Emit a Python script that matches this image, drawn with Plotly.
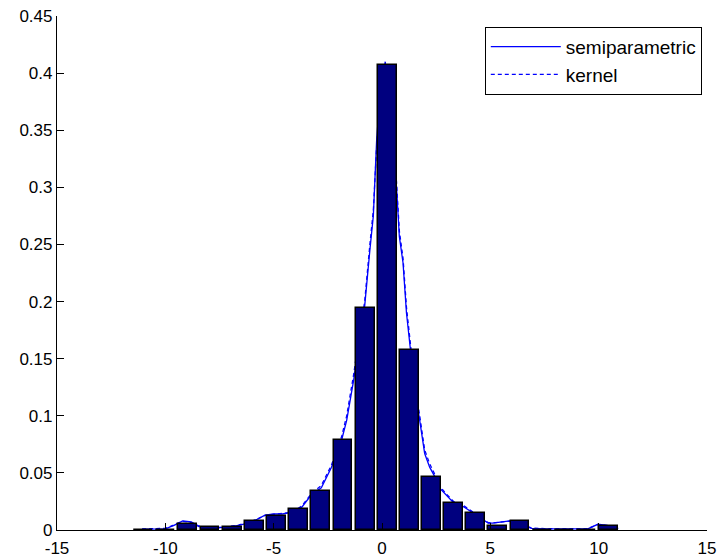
import plotly.graph_objects as go

# Histogram bins (centres) and heights
bin_centers = [-11.00, -9.98, -8.96, -7.94, -6.91, -5.89, -4.87, -3.85, -2.83, -1.80, -0.78,
               0.24, 1.26, 2.28, 3.31, 4.33, 5.35, 6.37, 7.39, 8.42, 9.44, 10.46]
bin_heights = [0.0, 0.0, 0.0055, 0.0026, 0.0026, 0.0079, 0.012, 0.018, 0.034, 0.079, 0.194,
               0.407, 0.158, 0.046, 0.024, 0.0146, 0.0038, 0.0079, 0.0, 0.0, 0.0, 0.0038]

# Semiparametric density estimate
semi_x = [-11.07, -10.5, -10.0, -9.6, -9.2, -8.8, -8.45, -8.0, -7.5, -7.0, -6.6, -6.2, -5.8,
          -5.4, -5.0, -4.6, -4.3, -4.0, -3.7, -3.25, -2.8, -2.33, -1.86, -1.63, -1.4, -1.31,
          -1.05, -0.8, -0.56, -0.4, -0.25, -0.1, 0.15, 0.4, 0.67, 0.8, 0.97, 1.13, 1.28, 1.5,
          1.74, 1.97, 2.2, 2.43, 2.6, 2.9, 3.3, 3.8, 4.1, 4.5, 4.9, 5.1, 5.5, 5.9, 6.3, 6.9,
          7.5, 8.5, 9.5, 9.96, 10.4, 10.9]
semi_y = [0.0008, 0.0008, 0.001, 0.004, 0.008, 0.007, 0.003, 0.002, 0.002, 0.003, 0.004,
          0.006, 0.009, 0.013, 0.014, 0.014, 0.015, 0.017, 0.020, 0.031, 0.037, 0.055, 0.079,
          0.096, 0.12, 0.131, 0.165, 0.196, 0.245, 0.275, 0.34, 0.38, 0.41, 0.36, 0.30, 0.257,
          0.234, 0.19, 0.163, 0.125, 0.096, 0.067, 0.055, 0.047, 0.038, 0.032, 0.024, 0.020,
          0.016, 0.011, 0.006, 0.006, 0.007, 0.008, 0.006, 0.0015, 0.001, 0.001, 0.001, 0.005,
          0.004, 0.0012]

# Kernel density estimate
kern_x = [-11.07, -10.5, -10.0, -9.6, -9.2, -8.8, -8.45, -8.0, -7.5, -7.0, -6.6, -6.2, -5.8,
          -5.4, -5.0, -4.6, -4.3, -4.0, -3.7, -3.25, -2.8, -2.33, -1.86, -1.63, -1.4, -1.31,
          -1.05, -0.8, -0.56, -0.4, -0.25, -0.1, 0.15, 0.4, 0.67, 0.8, 0.97, 1.13, 1.28, 1.5,
          1.74, 1.97, 2.2, 2.43, 2.6, 2.9, 3.3, 3.8, 4.1, 4.5, 4.9, 5.1, 5.5, 5.9, 6.3, 6.9,
          7.5, 8.5, 9.5, 9.96, 10.4, 10.9]
kern_y = [0.0009, 0.0009, 0.0015, 0.0045, 0.0075, 0.0065, 0.0035, 0.0022, 0.0022, 0.0032,
          0.0045, 0.0065, 0.0092, 0.0128, 0.0138, 0.0142, 0.0152, 0.0175, 0.021, 0.032, 0.039,
          0.057, 0.082, 0.1, 0.124, 0.136, 0.17, 0.2, 0.25, 0.28, 0.335, 0.375, 0.40, 0.355,
          0.305, 0.262, 0.238, 0.195, 0.168, 0.13, 0.1, 0.07, 0.058, 0.049, 0.04, 0.033, 0.025,
          0.021, 0.017, 0.012, 0.0065, 0.0062, 0.0072, 0.0078, 0.0058, 0.0018, 0.0012, 0.0012,
          0.0012, 0.0048, 0.0038, 0.0014]

x_ticks = [-15, -10, -5, 0, 5, 10, 15]
y_ticks = [0, 0.05, 0.1, 0.15, 0.2, 0.25, 0.3, 0.35, 0.4, 0.45]
y_tick_labels = ["0", "0.05", "0.1", "0.15", "0.2", "0.25", "0.3", "0.35", "0.4", "0.45"]

FONT = "Liberation Sans, Arial, sans-serif"
LINE_BLUE = "#0000FF"

fig = go.Figure()

# Lines on the base subplot (drawn beneath the bars)
fig.add_trace(go.Scatter(x=semi_x, y=semi_y, mode="lines", name="semiparametric",
                         line=dict(color=LINE_BLUE, width=1.3), xaxis="x", yaxis="y"))
fig.add_trace(go.Scatter(x=kern_x, y=kern_y, mode="lines", name="kernel",
                         line=dict(color=LINE_BLUE, width=1.3, dash="4px,3px"),
                         xaxis="x", yaxis="y"))

# Histogram bars on the overlaying subplot (drawn on top)
fig.add_trace(go.Bar(x=bin_centers, y=bin_heights, width=0.87, showlegend=False,
                     marker=dict(color="#00007F", line=dict(color="black", width=1.5)),
                     xaxis="x2", yaxis="y2"))

axis_common = dict(
    showgrid=False, zeroline=False, showline=True, linecolor="black", linewidth=1.2,
    ticks="inside", ticklen=7, tickcolor="black", tickwidth=1, automargin=False,
    tickfont=dict(family=FONT, size=17, color="black"),
)

fig.update_layout(
    width=718, height=560,
    margin=dict(l=57, r=11, t=16, b=30, autoexpand=False),
    paper_bgcolor="white", plot_bgcolor="white",
    bargap=0,
    xaxis=dict(range=[-15, 15], visible=False, fixedrange=True, automargin=False),
    yaxis=dict(range=[0, 0.45], visible=False, fixedrange=True, automargin=False),
    xaxis2=dict(range=[-15, 15], overlaying="x", tickvals=x_ticks,
                ticktext=[str(v) for v in x_ticks], anchor="y2",
                ticklabelstandoff=2, **axis_common),
    yaxis2=dict(range=[0, 0.45], overlaying="y", tickvals=y_ticks,
                ticktext=y_tick_labels, anchor="x2", **axis_common),
    legend=dict(x=0.992, y=0.979, xanchor="right", yanchor="top",
                bgcolor="white", bordercolor="black", borderwidth=1,
                font=dict(family=FONT, size=19, color="black"),
                itemwidth=70, tracegroupgap=0),
    showlegend=True,
)

fig.write_html("out.html",
               config={"displayModeBar": False},
               post_script="document.body.style.margin='0';document.body.style.overflow='hidden';")
